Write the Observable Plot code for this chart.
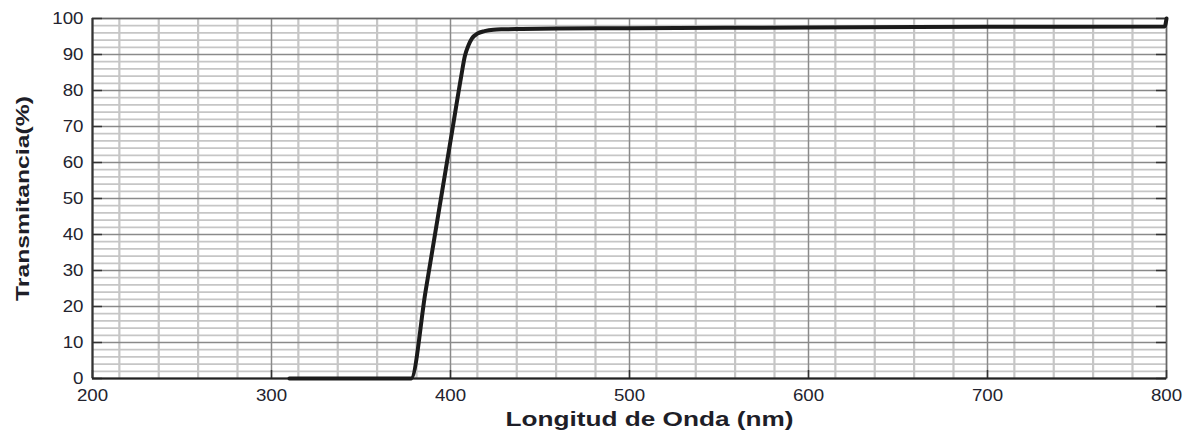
<!DOCTYPE html>
<html>
<head>
<meta charset="utf-8">
<script src="https://cdn.jsdelivr.net/npm/d3@7"></script>
<script src="https://cdn.jsdelivr.net/npm/@observablehq/plot@0.6"></script>
<style>
  html, body { margin: 0; padding: 0; background: #fff; }
</style>
</head>
<body>
<div id="chart"></div>
<script>
// Data
const wavelength = [310, 378, 386, 394, 401, 406, 408, 410, 412, 415, 419, 424, 430, 440, 460, 500, 600, 700, 799, 800];
const transmittance = [0, 0, 24, 48, 69, 84, 89.5, 92.5, 94.5, 95.8, 96.5, 96.9, 97.0, 97.1, 97.2, 97.3, 97.5, 97.7, 97.8, 100];

const xMajor = [200, 300, 400, 500, 600, 700, 800];
const xMinor = [215, 237, 259, 281, 315, 337, 359, 381, 415, 437, 459, 481,
                515, 537, 559, 581, 615, 637, 659, 681, 715, 737, 759, 781];
const yMajor = [0, 10, 20, 30, 40, 50, 60, 70, 80, 90, 100];
const yMinor = [2, 4, 6, 8, 12, 14, 16, 18, 22, 24, 26, 28, 32, 34, 36, 38, 42, 44, 46, 48,
                52, 54, 56, 58, 62, 64, 66, 68, 72, 74, 76, 78, 82, 84, 86, 88, 92, 94, 96, 98];

const xLabel = "Longitud de Onda (nm)";
const yLabel = "Transmitancia(%)";

const data = wavelength.map((w, i) => ({wl: w, t: transmittance[i]}));

const chart = Plot.plot({
  width: 1193,
  height: 441,
  marginLeft: 92,
  marginRight: 27,
  marginTop: 18,
  marginBottom: 63,
  x: {domain: [200, 800]},
  y: {domain: [0, 100]},
  style: {fontFamily: "'Liberation Sans', Arial, sans-serif", background: "#fff"},
  marks: [
    Plot.ruleY(yMinor, {stroke: "#c6c6c6", strokeWidth: 1.7}),
    Plot.ruleX(xMinor, {stroke: "#c6c6c6", strokeWidth: 2.2}),
    Plot.ruleY(yMajor, {stroke: "#8a8a8a", strokeWidth: 1.3}),
    Plot.ruleX(xMajor, {stroke: "#8a8a8a", strokeWidth: 1.5}),
    Plot.frame({stroke: "#666", strokeWidth: 1.5}),
    Plot.tickY(yMajor, {y: d => d, stroke: "#333", strokeWidth: 1.5, insetRight: 1064}),
    Plot.tickY(yMajor, {y: d => d, stroke: "#333", strokeWidth: 1.5, insetLeft: 1064}),
    Plot.tickX(xMajor, {x: d => d, stroke: "#333", strokeWidth: 1.5, insetTop: 352}),
    Plot.ruleX([200], {stroke: "#333", strokeWidth: 2}),
    Plot.ruleY([0], {stroke: "#222", strokeWidth: 2.2}),
    Plot.axisX({ticks: xMajor, tickSize: 0, tickPadding: 10, fontSize: 17, fill: "#23232e", label: null}),
    Plot.axisY({ticks: yMajor, tickSize: 0, tickPadding: 9, fontSize: 16, fill: "#23232e", label: null}),
    Plot.line(data, {x: "wl", y: "t", stroke: "#1b1b1b", strokeWidth: 4, curve: "monotone-x"}),
    Plot.text([xLabel], {text: d => d, frameAnchor: "bottom", textAnchor: "middle", dy: 47, dx: 20, fontWeight: "bold", fontSize: 21, fill: "#1e1e28"}),
    Plot.text([yLabel], {text: d => d, frameAnchor: "left", textAnchor: "middle", lineAnchor: "middle", dx: -70, rotate: -90, fontWeight: "bold", fontSize: 19, fill: "#1e1e28"})
  ]
});

document.getElementById("chart").appendChild(chart);

// The reference glyphs are horizontally stretched; widen text accordingly
chart.querySelectorAll("text").forEach(t => {
  const s = t.textContent.trim();
  let len = null;
  if (s === xLabel) len = 288;
  else if (s === yLabel) len = 205;
  else if (/^\d+$/.test(s)) len = s.length * 10.4;
  if (len != null) {
    t.setAttribute("textLength", len);
    t.setAttribute("lengthAdjust", "spacingAndGlyphs");
  }
});
</script>
</body>
</html>
